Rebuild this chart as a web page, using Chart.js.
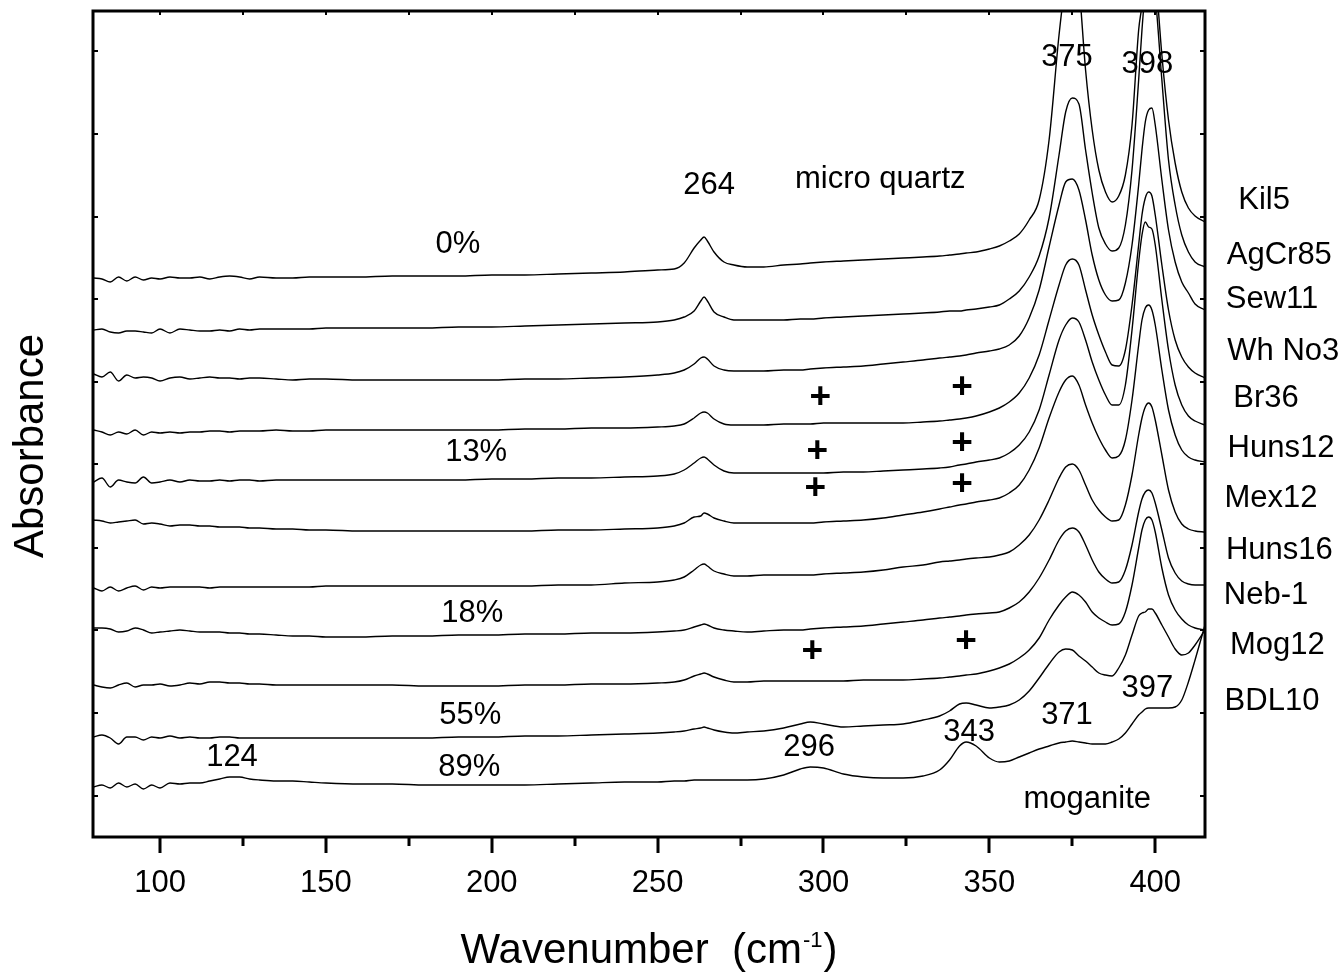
<!DOCTYPE html>
<html>
<head>
<meta charset="utf-8">
<title>Far-IR absorbance spectra</title>
<script src="https://cdn.jsdelivr.net/npm/chart.js@4.4.1/dist/chart.umd.min.js"></script>
<style>
  html, body { margin: 0; padding: 0; background: #fff; }
  #wrap { width: 1344px; height: 974px; position: relative; }
</style>
</head>
<body>
<div id="wrap"><canvas id="spectra"></canvas></div>
<script>
const FONT = "'Liberation Sans', Arial, Helvetica, sans-serif";

// wavenumber grid (cm-1) shared by all spectra
const wavenumbers = [80, 82.5, 85, 87.5, 90, 92.5, 95, 97.5, 100, 103,
  106, 109, 112, 115, 118, 121, 124, 127, 130, 135,
  140, 145, 150, 160, 170, 180, 190, 200, 210, 220,
  230, 240, 250, 255, 258, 261, 263, 264, 265, 267,
  270, 273, 277, 282, 288, 293, 296, 300, 306, 312,
  318, 324, 330, 335, 338, 341, 343, 346, 350, 353,
  356, 359, 362, 365, 368, 371, 373, 375, 377, 379,
  381, 383, 385, 387, 389, 391, 393, 395, 396, 397,
  398, 399, 400, 402, 404, 406, 408, 410, 412, 415];

// absorbance, already offset for stacking (top to bottom)
const kil5 = [5.59, 5.58, 5.55, 5.60, 5.56, 5.60, 5.57, 5.59, 5.58, 5.60,
  5.59, 5.59, 5.60, 5.58, 5.60, 5.61, 5.60, 5.58, 5.60, 5.59,
  5.59, 5.60, 5.60, 5.60, 5.61, 5.61, 5.61, 5.62, 5.62, 5.63,
  5.64, 5.65, 5.67, 5.68, 5.74, 5.89, 5.97, 6.00, 5.96, 5.85,
  5.75, 5.72, 5.70, 5.70, 5.72, 5.73, 5.74, 5.75, 5.76, 5.77,
  5.78, 5.79, 5.80, 5.81, 5.82, 5.83, 5.84, 5.85, 5.88, 5.91,
  5.96, 6.03, 6.17, 6.37, 6.97, 8.02, 8.57, 8.97, 8.52, 7.67,
  7.07, 6.67, 6.45, 6.35, 6.41, 6.62, 7.12, 8.07, 8.32, 8.67,
  8.97, 8.97, 8.67, 7.82, 7.17, 6.74, 6.45, 6.29, 6.21, 6.15];
const agcr85 = [5.07, 5.08, 5.05, 5.04, 5.06, 5.06, 5.05, 5.04, 5.08, 5.04,
  5.08, 5.07, 5.06, 5.06, 5.07, 5.06, 5.08, 5.07, 5.08, 5.08,
  5.08, 5.08, 5.09, 5.09, 5.09, 5.09, 5.10, 5.10, 5.11, 5.12,
  5.13, 5.14, 5.15, 5.17, 5.20, 5.26, 5.36, 5.40, 5.36, 5.25,
  5.20, 5.17, 5.17, 5.17, 5.17, 5.18, 5.18, 5.19, 5.20, 5.21,
  5.22, 5.23, 5.24, 5.25, 5.26, 5.26, 5.27, 5.28, 5.30, 5.32,
  5.38, 5.46, 5.60, 5.81, 6.19, 6.82, 7.25, 7.39, 7.33, 6.87,
  6.44, 6.09, 5.93, 5.86, 5.89, 6.12, 6.67, 7.57, 8.07, 8.47,
  8.67, 8.67, 8.42, 7.57, 6.77, 6.32, 6.02, 5.85, 5.75, 5.70];
const sew11 = [4.63, 4.60, 4.65, 4.56, 4.62, 4.59, 4.60, 4.59, 4.56, 4.59,
  4.60, 4.58, 4.59, 4.60, 4.59, 4.59, 4.58, 4.59, 4.59, 4.58,
  4.57, 4.58, 4.58, 4.57, 4.57, 4.57, 4.57, 4.57, 4.58, 4.58,
  4.59, 4.60, 4.62, 4.64, 4.67, 4.73, 4.79, 4.80, 4.78, 4.71,
  4.67, 4.66, 4.66, 4.66, 4.67, 4.67, 4.68, 4.69, 4.70, 4.71,
  4.73, 4.75, 4.77, 4.79, 4.80, 4.81, 4.82, 4.84, 4.86, 4.88,
  4.92, 5.01, 5.19, 5.47, 5.90, 6.32, 6.55, 6.58, 6.47, 6.17,
  5.82, 5.57, 5.42, 5.36, 5.37, 5.54, 5.92, 6.52, 6.87, 7.15,
  7.27, 7.29, 7.12, 6.57, 6.07, 5.75, 5.55, 5.44, 5.33, 5.27];
const whNo3 = [4.07, 4.05, 4.02, 4.05, 4.03, 4.07, 4.02, 4.05, 4.04, 4.05,
  4.04, 4.05, 4.05, 4.06, 4.06, 4.05, 4.06, 4.06, 4.06, 4.07,
  4.06, 4.06, 4.07, 4.07, 4.07, 4.07, 4.07, 4.07, 4.08, 4.08,
  4.09, 4.09, 4.10, 4.11, 4.13, 4.19, 4.24, 4.25, 4.24, 4.18,
  4.13, 4.12, 4.12, 4.12, 4.13, 4.13, 4.13, 4.14, 4.14, 4.14,
  4.14, 4.14, 4.15, 4.16, 4.17, 4.18, 4.19, 4.21, 4.25, 4.29,
  4.35, 4.44, 4.59, 4.82, 5.17, 5.52, 5.72, 5.78, 5.72, 5.47,
  5.22, 5.02, 4.85, 4.72, 4.71, 4.87, 5.32, 5.92, 6.22, 6.39,
  6.45, 6.41, 6.22, 5.72, 5.27, 4.97, 4.80, 4.70, 4.64, 4.59];
const br36 = [3.55, 3.59, 3.50, 3.57, 3.55, 3.54, 3.60, 3.54, 3.55, 3.57,
  3.55, 3.57, 3.56, 3.56, 3.57, 3.56, 3.57, 3.57, 3.56, 3.57,
  3.57, 3.57, 3.57, 3.57, 3.57, 3.57, 3.57, 3.58, 3.58, 3.59,
  3.59, 3.60, 3.61, 3.63, 3.67, 3.74, 3.79, 3.80, 3.78, 3.72,
  3.66, 3.64, 3.64, 3.64, 3.64, 3.64, 3.64, 3.64, 3.65, 3.65,
  3.66, 3.67, 3.68, 3.69, 3.70, 3.72, 3.73, 3.75, 3.77, 3.79,
  3.84, 3.92, 4.05, 4.27, 4.62, 4.97, 5.12, 5.19, 5.15, 4.97,
  4.75, 4.57, 4.42, 4.32, 4.32, 4.52, 5.07, 5.75, 6.02, 6.15,
  6.10, 6.08, 5.92, 5.37, 4.87, 4.52, 4.32, 4.21, 4.16, 4.12];
const huns12 = [3.17, 3.16, 3.14, 3.15, 3.16, 3.17, 3.13, 3.14, 3.13, 3.11,
  3.12, 3.12, 3.11, 3.11, 3.10, 3.10, 3.10, 3.09, 3.09, 3.08,
  3.08, 3.07, 3.07, 3.06, 3.06, 3.06, 3.06, 3.06, 3.06, 3.07,
  3.07, 3.08, 3.09, 3.11, 3.14, 3.20, 3.21, 3.24, 3.23, 3.19,
  3.16, 3.14, 3.14, 3.14, 3.14, 3.14, 3.14, 3.15, 3.16, 3.17,
  3.19, 3.22, 3.25, 3.28, 3.30, 3.32, 3.33, 3.35, 3.37, 3.39,
  3.44, 3.52, 3.67, 3.89, 4.19, 4.45, 4.57, 4.61, 4.52, 4.32,
  4.14, 3.99, 3.87, 3.79, 3.81, 3.97, 4.37, 4.92, 5.17, 5.29,
  5.32, 5.27, 5.12, 4.67, 4.27, 4.02, 3.87, 3.80, 3.77, 3.75];
const mex12 = [2.49, 2.46, 2.50, 2.46, 2.49, 2.51, 2.47, 2.50, 2.49, 2.50,
  2.50, 2.50, 2.50, 2.49, 2.50, 2.50, 2.50, 2.50, 2.50, 2.50,
  2.50, 2.50, 2.51, 2.51, 2.51, 2.51, 2.51, 2.51, 2.51, 2.52,
  2.52, 2.54, 2.55, 2.57, 2.60, 2.67, 2.72, 2.73, 2.71, 2.66,
  2.63, 2.61, 2.61, 2.62, 2.62, 2.62, 2.62, 2.63, 2.64, 2.65,
  2.67, 2.70, 2.72, 2.75, 2.76, 2.77, 2.78, 2.79, 2.80, 2.82,
  2.85, 2.92, 3.02, 3.17, 3.37, 3.59, 3.70, 3.73, 3.67, 3.52,
  3.37, 3.27, 3.20, 3.16, 3.17, 3.32, 3.62, 4.02, 4.19, 4.30,
  4.34, 4.30, 4.17, 3.82, 3.47, 3.25, 3.13, 3.08, 3.06, 3.05];
const huns16 = [2.09, 2.09, 2.08, 2.05, 2.06, 2.09, 2.07, 2.04, 2.05, 2.06,
  2.07, 2.06, 2.05, 2.05, 2.05, 2.04, 2.04, 2.03, 2.03, 2.02,
  2.01, 2.01, 2.00, 2.00, 2.01, 2.01, 2.02, 2.02, 2.03, 2.03,
  2.04, 2.04, 2.05, 2.06, 2.07, 2.10, 2.12, 2.13, 2.12, 2.09,
  2.07, 2.06, 2.05, 2.06, 2.07, 2.07, 2.08, 2.09, 2.10, 2.11,
  2.13, 2.15, 2.17, 2.19, 2.20, 2.21, 2.22, 2.23, 2.24, 2.25,
  2.29, 2.35, 2.45, 2.59, 2.77, 2.97, 3.06, 3.09, 3.05, 2.92,
  2.77, 2.65, 2.58, 2.54, 2.55, 2.67, 2.92, 3.25, 3.38, 3.45,
  3.47, 3.44, 3.34, 3.07, 2.79, 2.64, 2.56, 2.53, 2.52, 2.52];
const neb1 = [1.52, 1.50, 1.49, 1.52, 1.54, 1.50, 1.52, 1.52, 1.53, 1.51,
  1.52, 1.54, 1.53, 1.55, 1.55, 1.54, 1.54, 1.53, 1.53, 1.52,
  1.52, 1.52, 1.52, 1.52, 1.52, 1.51, 1.51, 1.51, 1.52, 1.52,
  1.53, 1.53, 1.54, 1.55, 1.57, 1.61, 1.63, 1.64, 1.63, 1.60,
  1.57, 1.55, 1.55, 1.56, 1.56, 1.56, 1.56, 1.56, 1.56, 1.57,
  1.57, 1.57, 1.58, 1.59, 1.60, 1.61, 1.62, 1.63, 1.66, 1.69,
  1.73, 1.79, 1.87, 1.99, 2.17, 2.32, 2.40, 2.45, 2.42, 2.35,
  2.25, 2.19, 2.15, 2.12, 2.13, 2.25, 2.52, 2.89, 3.07, 3.17,
  3.20, 3.17, 3.05, 2.69, 2.42, 2.27, 2.18, 2.12, 2.09, 2.07];
const mog12 = [1.00, 1.02, 0.99, 0.93, 1.00, 1.00, 0.97, 1.00, 0.99, 1.01,
  0.99, 1.00, 0.99, 0.99, 1.00, 1.00, 0.99, 0.99, 0.99, 0.99,
  0.99, 0.99, 0.99, 0.99, 0.99, 0.99, 1.00, 1.00, 1.01, 1.01,
  1.02, 1.03, 1.04, 1.05, 1.06, 1.08, 1.09, 1.10, 1.09, 1.07,
  1.05, 1.04, 1.05, 1.06, 1.09, 1.13, 1.15, 1.13, 1.10, 1.11,
  1.12, 1.13, 1.17, 1.21, 1.26, 1.33, 1.34, 1.32, 1.29, 1.30,
  1.32, 1.37, 1.46, 1.59, 1.73, 1.85, 1.88, 1.87, 1.81, 1.76,
  1.70, 1.64, 1.62, 1.61, 1.69, 1.82, 2.02, 2.21, 2.24, 2.25,
  2.28, 2.28, 2.24, 2.12, 2.00, 1.88, 1.82, 1.84, 1.92, 2.07];
const bdl10 = [0.50, 0.52, 0.49, 0.54, 0.50, 0.53, 0.48, 0.52, 0.49, 0.54,
  0.53, 0.54, 0.54, 0.56, 0.58, 0.60, 0.60, 0.58, 0.57, 0.56,
  0.56, 0.55, 0.54, 0.53, 0.53, 0.52, 0.52, 0.52, 0.52, 0.53,
  0.54, 0.55, 0.55, 0.56, 0.56, 0.57, 0.57, 0.57, 0.57, 0.57,
  0.57, 0.57, 0.57, 0.58, 0.62, 0.68, 0.70, 0.69, 0.63, 0.60,
  0.59, 0.59, 0.61, 0.67, 0.77, 0.91, 0.95, 0.91, 0.79, 0.75,
  0.76, 0.80, 0.84, 0.88, 0.91, 0.94, 0.95, 0.96, 0.95, 0.94,
  0.93, 0.93, 0.93, 0.95, 0.98, 1.04, 1.13, 1.22, 1.25, 1.28,
  1.29, 1.29, 1.29, 1.29, 1.29, 1.30, 1.37, 1.55, 1.77, 2.12];

const spectra = [kil5, agcr85, sew11, whNo3, br36, huns12, mex12, huns16, neb1, mog12, bdl10];
const sampleNames = ['Kil5', 'AgCr85', 'Sew11', 'Wh No3', 'Br36', 'Huns12', 'Mex12', 'Huns16', 'Neb-1', 'Mog12', 'BDL10'];

const xMajorTicks = [100, 150, 200, 250, 300, 350, 400];
const xMinorTicks = [125, 175, 225, 275, 325, 375];
const yTicks = [0.41, 1.24, 2.07, 2.89, 3.73, 4.55, 5.38, 6.20, 7.03, 7.86];

// sample names to the right of the frame (wavenumber, absorbance)
const nameX = [432.8, 437.4, 435.2, 438.6, 433.4, 437.9, 434.9, 437.4, 433.4, 436.8, 435.2];
const nameY = [6.37, 5.82, 5.38, 4.86, 4.39, 3.89, 3.39, 2.87, 2.42, 1.92, 1.36];

const notes = [
  { text: '264', x: 265.5, y: 6.52 },
  { text: 'micro quartz', x: 317.1, y: 6.58 },
  { text: '375', x: 373.4, y: 7.80 },
  { text: '398', x: 397.6, y: 7.73 },
  { text: '0%', x: 189.8, y: 5.93 },
  { text: '13%', x: 195.3, y: 3.85 },
  { text: '18%', x: 194.1, y: 2.24 },
  { text: '55%', x: 193.5, y: 1.22 },
  { text: '89%', x: 193.2, y: 0.70 },
  { text: '124', x: 121.7, y: 0.80 },
  { text: '296', x: 295.7, y: 0.90 },
  { text: '343', x: 343.9, y: 1.05 },
  { text: '371', x: 373.4, y: 1.22 },
  { text: '397', x: 397.6, y: 1.49 },
  { text: 'moganite', x: 379.5, y: 0.38 }
];
const plusX = [299.0, 298.1, 297.5, 341.8, 341.8, 341.8, 296.6, 343.0];
const plusY = [4.39, 3.85, 3.48, 4.49, 3.93, 3.52, 1.85, 1.95];

const framePlugin = {
  id: 'frame',
  afterDraw(chart) {
    const { ctx, chartArea: a, scales: { x, y } } = chart;
    ctx.save();
    ctx.strokeStyle = '#000';
    ctx.fillStyle = '#000';

    // ticks
    ctx.lineWidth = 3;
    ctx.beginPath();
    xMajorTicks.forEach(v => {
      const px = Math.round(x.getPixelForValue(v));
      ctx.moveTo(px, a.bottom); ctx.lineTo(px, a.bottom + 16);
    });
    xMinorTicks.forEach(v => {
      const px = Math.round(x.getPixelForValue(v));
      ctx.moveTo(px, a.bottom); ctx.lineTo(px, a.bottom + 9);
    });
    ctx.stroke();
    ctx.lineWidth = 2;
    ctx.beginPath();
    xMajorTicks.concat(xMinorTicks).forEach(v => {
      const px = Math.round(x.getPixelForValue(v));
      ctx.moveTo(px, a.top); ctx.lineTo(px, a.top + 4);
    });
    yTicks.forEach(v => {
      const py = Math.round(y.getPixelForValue(v));
      ctx.moveTo(a.left, py); ctx.lineTo(a.left + 5, py);
      ctx.moveTo(a.right, py); ctx.lineTo(a.right - 5, py);
    });
    ctx.stroke();

    // frame
    ctx.lineWidth = 3;
    ctx.strokeRect(a.left, a.top, a.right - a.left, a.bottom - a.top);

    // annotations
    ctx.textAlign = 'center';
    ctx.textBaseline = 'middle';
    ctx.font = '31px ' + FONT;
    notes.forEach(n => ctx.fillText(n.text, x.getPixelForValue(n.x), y.getPixelForValue(n.y)));
    sampleNames.forEach((s, i) => ctx.fillText(s, x.getPixelForValue(nameX[i]), y.getPixelForValue(nameY[i])));
    ctx.font = 'bold 37px ' + FONT;
    plusX.forEach((v, i) => ctx.fillText('+', x.getPixelForValue(v), y.getPixelForValue(plusY[i])));

    // axis titles
    ctx.textBaseline = 'alphabetic';
    ctx.save();
    ctx.translate(a.left - 50, (a.top + a.bottom) / 2 + 22);
    ctx.rotate(-Math.PI / 2);
    ctx.font = '42px ' + FONT;
    ctx.fillText('Absorbance', 0, 0);
    ctx.restore();

    ctx.textAlign = 'left';
    ctx.font = '42px ' + FONT;
    const main = 'Wavenumber  (cm';
    const w1 = ctx.measureText(main).width;
    const w3 = ctx.measureText(')').width;
    ctx.font = '22px ' + FONT;
    const w2 = ctx.measureText('-1').width;
    const base = a.bottom + 126;
    const sx = (a.left + a.right) / 2 - (w1 + w2 + w3 + 2) / 2;
    ctx.font = '42px ' + FONT;
    ctx.fillText(main, sx, base);
    ctx.font = '22px ' + FONT;
    ctx.fillText('-1', sx + w1 + 1, base - 16);
    ctx.font = '42px ' + FONT;
    ctx.fillText(')', sx + w1 + w2 + 2, base);
    ctx.restore();
  }
};

const datasets = spectra.map((vals, i) => ({
  label: sampleNames[i],
  data: wavenumbers.map((w, k) => ({ x: w, y: vals[k] })),
  borderColor: '#000',
  borderWidth: 1.4,
  pointRadius: 0,
  fill: false,
  cubicInterpolationMode: 'monotone'
}));

new Chart(document.getElementById('spectra'), {
  type: 'line',
  data: { datasets },
  options: {
    responsive: true,
    maintainAspectRatio: false,
    animation: false,
    layout: { padding: { left: 93, right: 139, top: 11, bottom: 0 } },
    plugins: { legend: { display: false }, tooltip: { enabled: false } },
    scales: {
      x: {
        type: 'linear',
        min: 79.8,
        max: 415,
        afterBuildTicks: s => { s.ticks = xMajorTicks.map(v => ({ value: v })); },
        afterFit: s => { s.height = 137; },
        grid: { display: false, drawTicks: false },
        border: { display: false },
        ticks: {
          font: { family: FONT, size: 31 },
          color: '#000',
          padding: 28,
          maxRotation: 0,
          autoSkip: false
        }
      },
      y: { min: 0, max: 8.26, display: false }
    }
  },
  plugins: [framePlugin]
});
</script>
</body>
</html>
